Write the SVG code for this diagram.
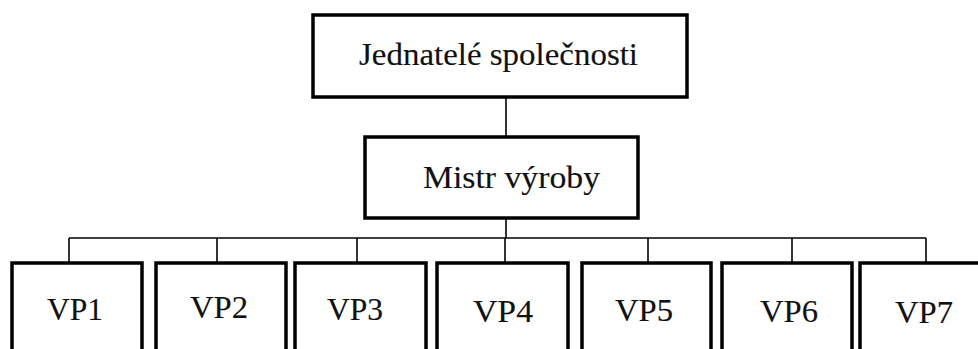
<svg xmlns="http://www.w3.org/2000/svg" width="978" height="349" viewBox="0 0 978 349">
<style>
.box{fill:#fff;stroke:#000;stroke-width:3.5}
.ln{stroke:#000;stroke-width:1.6;fill:none}
.t{font-family:'Liberation Serif','Times New Roman',serif;font-size:32px;fill:#111;stroke:#111;stroke-width:0.15}
</style>
<rect width="978" height="349" fill="#fff"/>
<g id="connectors">
<line class="ln" x1="506" y1="97" x2="506" y2="137"/>
<line class="ln" x1="506" y1="218" x2="506" y2="238"/>
<line class="ln" x1="69" y1="238" x2="926" y2="238"/>
<line class="ln" x1="69" y1="238" x2="69" y2="263"/>
<line class="ln" x1="217" y1="238" x2="217" y2="263"/>
<line class="ln" x1="357" y1="238" x2="357" y2="263"/>
<line class="ln" x1="505" y1="238" x2="505" y2="263"/>
<line class="ln" x1="648" y1="238" x2="648" y2="263"/>
<line class="ln" x1="792" y1="238" x2="792" y2="263"/>
<line class="ln" x1="926" y1="238" x2="926" y2="263"/>
</g>
<g id="jednatele"><rect class="box" x="313" y="15" width="374" height="82"/><text class="t" x="359" y="65" textLength="279" lengthAdjust="spacingAndGlyphs">Jednatelé společnosti</text></g>
<g id="mistr"><rect class="box" x="365" y="137" width="273" height="81"/><text class="t" x="423" y="188" textLength="177" lengthAdjust="spacingAndGlyphs">Mistr výroby</text></g>
<g id="vp1"><rect class="box" x="12" y="263" width="130" height="100"/><text class="t" x="47" y="320" textLength="56" lengthAdjust="spacingAndGlyphs">VP1</text></g>
<g id="vp2"><rect class="box" x="156" y="263" width="130" height="100"/><text class="t" x="190" y="318" textLength="58" lengthAdjust="spacingAndGlyphs">VP2</text></g>
<g id="vp3"><rect class="box" x="295" y="263" width="131" height="100"/><text class="t" x="327" y="320" textLength="56" lengthAdjust="spacingAndGlyphs">VP3</text></g>
<g id="vp4"><rect class="box" x="437" y="263" width="131" height="100"/><text class="t" x="473" y="322" textLength="60" lengthAdjust="spacingAndGlyphs">VP4</text></g>
<g id="vp5"><rect class="box" x="582" y="263" width="129" height="100"/><text class="t" x="615" y="321" textLength="58" lengthAdjust="spacingAndGlyphs">VP5</text></g>
<g id="vp6"><rect class="box" x="722" y="263" width="130" height="100"/><text class="t" x="760" y="322" textLength="58" lengthAdjust="spacingAndGlyphs">VP6</text></g>
<g id="vp7"><rect class="box" x="860" y="263" width="140" height="100"/><text class="t" x="895" y="323" textLength="58" lengthAdjust="spacingAndGlyphs">VP7</text></g>
</svg>
